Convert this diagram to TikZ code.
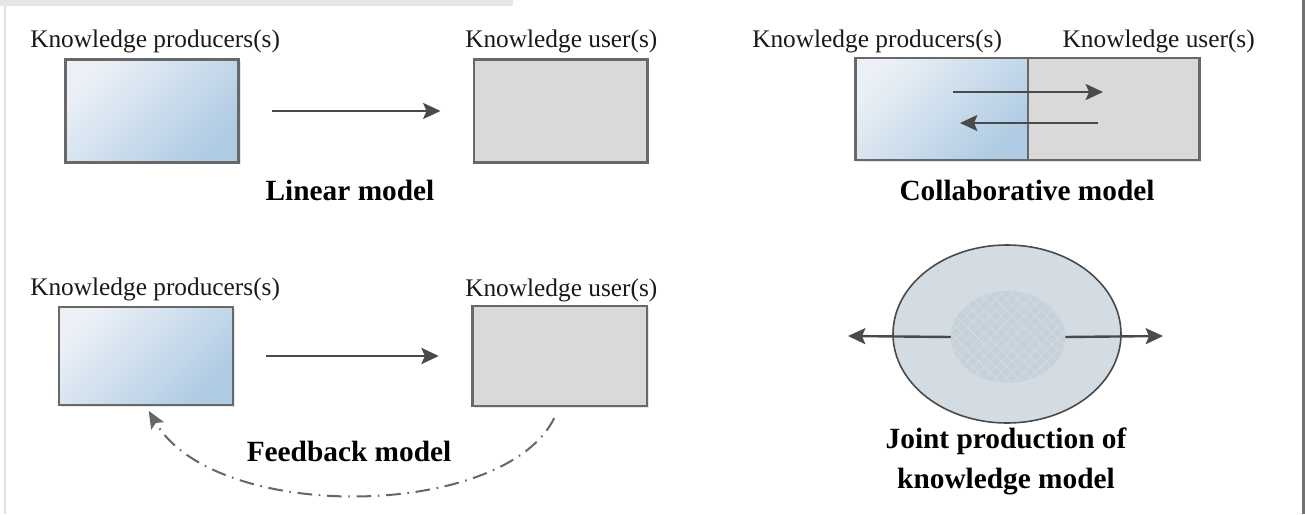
\documentclass[tikz,border=0pt]{standalone}
\usepackage{fontspec}
\setmainfont{Liberation Serif}
\usepackage{tikz}
\usetikzlibrary{arrows.meta,shapes.geometric,shadows,patterns.meta,positioning}

\definecolor{boxline}{HTML}{686868}
\definecolor{usergray}{HTML}{D9D9D9}
\definecolor{prodlight}{HTML}{EBF0F6}
\definecolor{prodmid}{HTML}{C3D7E9}
\definecolor{proddark}{HTML}{AFCBE3}
\definecolor{arrowgray}{HTML}{4A4A4A}
\definecolor{jointout}{HTML}{D3DCE3}
\definecolor{jointin}{HTML}{C7D1D9}
\definecolor{hatch}{HTML}{D6DEE4}
\definecolor{topbar}{HTML}{E6E6E6}
\definecolor{rightbar}{HTML}{737373}

\begin{document}
\begin{tikzpicture}[x=0.75pt,y=-0.75pt,
  lbl/.style={font=\fontsize{19}{22}\selectfont, text=black!90, inner sep=0pt},
  title/.style={font=\fontsize{22}{30}\selectfont\bfseries, anchor=base, inner sep=0pt, align=center},
  basebox/.style={draw=boxline, line width=2pt, inner sep=0pt,
    minimum width=130pt, minimum height=77pt,
    drop shadow={shadow xshift=1.5pt, shadow yshift=-1.5pt, opacity=0.2}},
  prodbox/.style={basebox, left color=prodlight, middle color=prodmid, right color=proddark, shading angle=45},
  userbox/.style={basebox, fill=usergray},
  flow/.style={draw=arrowgray, line width=1.8pt, -{Stealth[length=13pt,width=12pt,inset=2.5pt]}},
  feedback/.style={draw=black!60, line width=1.5pt, dash pattern=on 11pt off 5pt on 1.2pt off 5pt,
    -{Stealth[length=13pt,width=11pt,inset=2.5pt]}}]

  % Frame
  \useasboundingbox (0,0) rectangle (1305,514);
  \fill[white] (0,0) rectangle (1305,514);
  \fill[topbar] (0,0) rectangle (513,6);
  \draw[black!12, line width=1.2pt] (5,6) -- (5,514);
  \fill[rightbar] (1302,0) rectangle (1305,514);

  % Linear model
  \node[lbl, anchor=base west] (lprodlbl) at (30,47) {Knowledge producers(s)};
  \node[lbl, anchor=base west] (luserlbl) at (465,47) {Knowledge user(s)};
  \node[prodbox] (lprod) at (152,111) {};
  \node[userbox] (luser) at (560.5,111) {};
  \draw[flow, shorten <=24pt, shorten >=24pt] (lprod.east) -- (luser.west);
  \node[title] (ltitle) at (350,200) {Linear model};

  % Collaborative model
  \node[lbl, anchor=base west] (cprodlbl) at (752,47) {Knowledge producers(s)};
  \node[lbl, anchor=base east] (cuserlbl) at (1255,47) {Knowledge user(s)};
  \node[prodbox, minimum height=76.5pt] (cprod) at (942,109) {};
  \node[userbox, minimum height=76.5pt, minimum width=128.5pt] (cuser) at (1113.5,109) {};
  \coordinate (cto1) at (953,92);
  \coordinate (cto2) at (1103,92);
  \coordinate (cback1) at (1098,123);
  \coordinate (cback2) at (960,123);
  \draw[flow] (cto1) -- (cto2);
  \draw[flow] (cback1) -- (cback2);
  \node[title] (ctitle) at (1027,200) {Collaborative model};

  % Feedback model
  \node[lbl, anchor=base west] (fprodlbl) at (30,295) {Knowledge producers(s)};
  \node[lbl, anchor=base west] (fuserlbl) at (465,296) {Knowledge user(s)};
  \node[prodbox, minimum width=130.5pt, minimum height=73.5pt] (fprod) at (146,356) {};
  \node[userbox, minimum width=131pt, minimum height=75pt] (fuser) at (559.5,356) {};
  \draw[flow, shorten <=24pt, shorten >=24pt] (fprod.east) -- (fuser.west);
  \draw[feedback, shorten <=9pt, shorten >=4pt]
    (fuser.south) .. controls +(-55,112) and +(70,118) .. (fprod.south);
  \node[title] (ftitle) at (349,461) {Feedback model};

  % Joint production model
  \node[ellipse, draw=arrowgray, line width=1.2pt, fill=jointout,
    minimum width=171pt, minimum height=133.5pt] (jouter) at (1007,334) {};
  \node[ellipse, fill=jointin, minimum width=85.5pt, minimum height=69pt,
    postaction={pattern={Lines[angle=45,distance=6pt,line width=0.4pt]}, pattern color=hatch},
    postaction={pattern={Lines[angle=-45,distance=6pt,line width=0.4pt]}, pattern color=hatch}]
    (jinner) at (1008,337) {};
  \coordinate (jleft) at (848,336);
  \coordinate (jright) at (1163,336);
  \draw[flow] (jinner.west) -- (jleft);
  \draw[flow] (jinner.east) -- (jright);
  \node[title] (jtitle) at (1006,488) {Joint production of\\knowledge model};

\end{tikzpicture}
\end{document}
